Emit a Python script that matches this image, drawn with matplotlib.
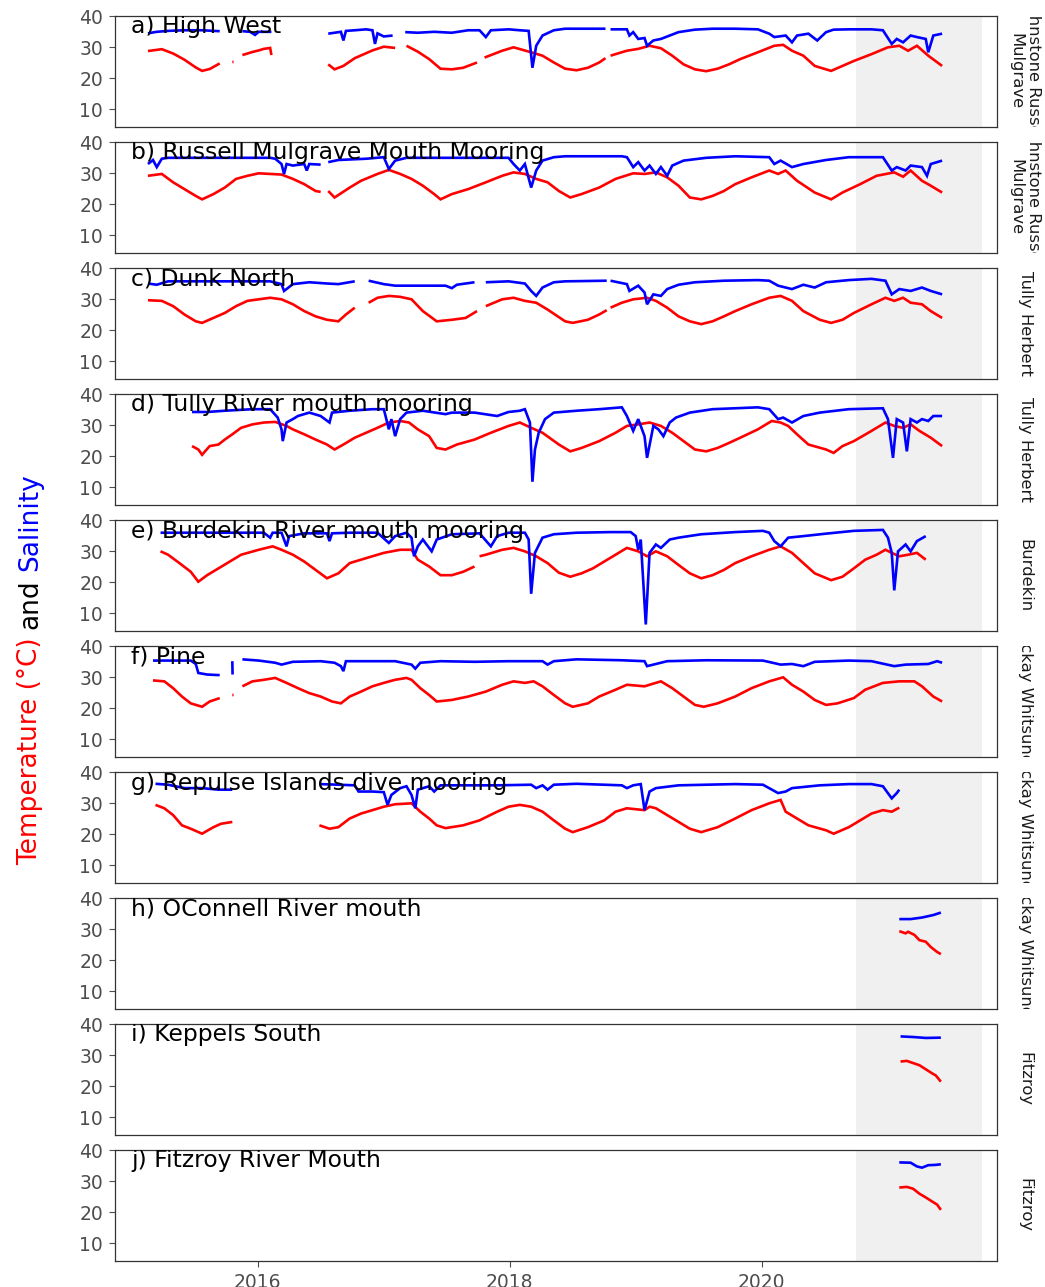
import numpy as np
import pandas as pd
import matplotlib
matplotlib.use("Agg")
import matplotlib.pyplot as plt
import matplotlib.dates as mdates

plt.rcParams["font.family"] = ["DejaVu Sans"]

# ---------------------------------------------------------------------------
# Logger series: (decimal year, value); None marks a gap in the record
# ---------------------------------------------------------------------------
site_titles = ["a) High West", "b) Russell Mulgrave Mouth Mooring", "c) Dunk North",
               "d) Tully River mouth mooring", "e) Burdekin River mouth mooring", "f) Pine",
               "g) Repulse Islands dive mooring", "h) OConnell River mouth",
               "i) Keppels South", "j) Fitzroy River Mouth"]
regions = ["Johnstone Russell\nMulgrave", "Johnstone Russell\nMulgrave", "Tully Herbert",
           "Tully Herbert", "Burdekin", "Mackay Whitsunday", "Mackay Whitsunday",
           "Mackay Whitsunday", "Fitzroy", "Fitzroy"]

temp_a = [(2015.13, 28.8), (2015.24, 29.4), (2015.33, 28.0), (2015.42, 26.0), (2015.51, 23.5),
          (2015.56, 22.4), (2015.62, 23.0), (2015.70, 24.8), None, (2015.80, 25.3), (2015.81, 25.3),
          None, (2015.88, 27.5), (2015.96, 28.5), (2016.01, 29.0), (2016.05, 29.5), (2016.10, 29.8),
          (2016.11, 27.5), None, (2016.56, 24.5), (2016.61, 22.9), (2016.68, 24.0), (2016.77, 26.5),
          (2016.91, 29.0), (2017.00, 30.2), (2017.09, 29.8), None, (2017.18, 30.5), (2017.27, 28.6),
          (2017.36, 26.2), (2017.45, 23.1), (2017.54, 22.9), (2017.63, 23.4), (2017.74, 25.1), None,
          (2017.80, 26.7), (2017.94, 28.9), (2018.03, 30.0), (2018.17, 28.4), (2018.26, 27.3),
          (2018.35, 25.1), (2018.44, 23.1), (2018.53, 22.6), (2018.62, 23.4), (2018.71, 25.1),
          (2018.76, 26.5), None, (2018.80, 27.3), (2018.84, 27.8), (2018.93, 28.9), (2019.02, 29.5),
          (2019.11, 30.5), (2019.20, 29.7), (2019.29, 27.3), (2019.38, 24.5), (2019.47, 22.9),
          (2019.56, 22.3), (2019.65, 23.1), (2019.74, 24.5), (2019.83, 26.2), (2019.97, 28.4),
          (2020.10, 30.5), (2020.17, 30.8), (2020.24, 28.9), (2020.33, 27.3), (2020.42, 24.0),
          (2020.55, 22.4), (2020.64, 24.0), (2020.73, 25.6), (2020.87, 27.8), (2021.00, 30.0),
          (2021.09, 30.5), (2021.16, 28.9), (2021.23, 30.5), (2021.32, 27.3), (2021.43, 24.0)]
sal_a = [(2015.13, 34.5), (2015.17, 34.8), (2015.20, 35.0), (2015.29, 35.3), (2015.42, 35.5),
         (2015.56, 35.5), (2015.65, 35.3), (2015.70, 35.2), None, (2015.88, 35.2), (2015.94, 35.0),
         (2015.98, 34.0), (2016.01, 35.0), (2016.11, 35.0), None, (2016.56, 34.4), (2016.61, 34.7),
         (2016.66, 35.0), (2016.68, 32.2), (2016.70, 35.3), (2016.77, 35.5), (2016.86, 35.8),
         (2016.91, 35.5), (2016.93, 31.1), (2016.95, 34.5), (2017.00, 33.5), (2017.07, 33.8), None,
         (2017.17, 34.9), (2017.27, 34.7), (2017.40, 35.0), (2017.54, 34.7), (2017.67, 35.5),
         (2017.76, 35.5), (2017.81, 33.3), (2017.85, 35.5), (2017.99, 35.8), (2018.08, 35.5),
         (2018.15, 35.3), (2018.18, 23.4), (2018.21, 30.5), (2018.26, 33.8), (2018.35, 35.5),
         (2018.44, 36.0), (2018.62, 36.0), (2018.76, 36.0), None, (2018.80, 35.8), (2018.93, 35.8),
         (2018.95, 33.8), (2018.98, 34.9), (2019.02, 32.7), (2019.07, 33.0), (2019.09, 30.5),
         (2019.14, 32.2), (2019.20, 32.7), (2019.34, 34.9), (2019.47, 35.7), (2019.61, 36.0),
         (2019.79, 36.0), (2019.97, 35.8), (2020.06, 34.4), (2020.10, 33.3), (2020.19, 33.8),
         (2020.24, 31.6), (2020.28, 33.8), (2020.37, 34.4), (2020.44, 32.2), (2020.51, 34.9),
         (2020.57, 35.7), (2020.69, 35.8), (2020.87, 35.8), (2020.96, 35.5), (2021.03, 31.1),
         (2021.07, 32.7), (2021.12, 31.6), (2021.18, 33.8), (2021.23, 33.3), (2021.30, 32.7),
         (2021.32, 28.4), (2021.36, 33.8), (2021.43, 34.4)]

temp_b = [(2015.13, 29.2), (2015.24, 29.8), (2015.33, 27.1), (2015.42, 24.9), (2015.51, 22.7),
          (2015.56, 21.6), (2015.65, 23.3), (2015.74, 25.4), (2015.83, 28.2), (2015.92, 29.2),
          (2016.01, 30.0), (2016.10, 29.8), (2016.19, 29.6), (2016.28, 28.2), (2016.37, 26.5),
          (2016.46, 24.3), (2016.50, 24.0), None, (2016.56, 24.3), (2016.61, 22.2), (2016.73, 25.4),
          (2016.82, 27.6), (2016.95, 29.8), (2017.04, 31.1), (2017.13, 29.8), (2017.22, 28.2),
          (2017.31, 26.0), (2017.40, 23.3), (2017.45, 21.6), (2017.54, 23.3), (2017.67, 24.9),
          (2017.81, 27.1), (2017.94, 29.2), (2018.03, 30.3), (2018.12, 29.8), (2018.21, 28.2),
          (2018.30, 27.1), (2018.39, 24.3), (2018.48, 22.2), (2018.57, 23.3), (2018.71, 25.4),
          (2018.84, 28.2), (2018.98, 30.0), (2019.07, 29.8), (2019.16, 30.3), (2019.25, 28.7),
          (2019.34, 26.0), (2019.43, 22.2), (2019.52, 21.6), (2019.61, 22.7), (2019.70, 24.3),
          (2019.79, 26.5), (2019.92, 28.7), (2020.06, 30.9), (2020.13, 29.8), (2020.19, 30.9),
          (2020.28, 27.6), (2020.42, 23.8), (2020.55, 21.6), (2020.64, 23.8), (2020.78, 26.5),
          (2020.91, 29.2), (2021.05, 30.3), (2021.12, 28.9), (2021.18, 30.9), (2021.27, 27.6),
          (2021.34, 26.0), (2021.43, 23.8)]
sal_b = [(2015.13, 33.0), (2015.17, 34.3), (2015.20, 32.0), (2015.24, 34.7), (2015.29, 35.0),
         (2015.60, 35.0), (2016.10, 35.0), (2016.14, 34.7), (2016.19, 33.0), (2016.21, 29.8),
         (2016.23, 33.0), (2016.28, 32.5), (2016.37, 33.0), (2016.39, 30.9), (2016.41, 33.0),
         (2016.50, 32.8), None, (2016.56, 33.6), (2016.64, 34.3), (2016.86, 34.7), (2017.00, 35.2),
         (2017.04, 31.4), (2017.09, 34.1), (2017.18, 35.0), (2017.99, 35.0), (2018.03, 33.0),
         (2018.08, 30.9), (2018.12, 33.0), (2018.17, 25.4), (2018.21, 30.9), (2018.26, 34.1),
         (2018.35, 35.2), (2018.44, 35.5), (2018.89, 35.5), (2018.93, 35.2), (2018.98, 32.0),
         (2019.02, 33.6), (2019.07, 30.9), (2019.11, 32.5), (2019.16, 29.8), (2019.20, 32.0),
         (2019.25, 29.2), (2019.29, 32.5), (2019.38, 34.1), (2019.56, 35.0), (2019.79, 35.5),
         (2020.06, 35.2), (2020.10, 33.0), (2020.15, 34.1), (2020.24, 32.0), (2020.33, 33.0),
         (2020.51, 34.3), (2020.69, 35.2), (2020.96, 35.2), (2021.03, 30.9), (2021.07, 32.0),
         (2021.14, 30.9), (2021.18, 32.5), (2021.27, 32.0), (2021.31, 29.2), (2021.34, 33.0),
         (2021.43, 34.1)]

temp_c = [(2015.13, 29.7), (2015.24, 29.5), (2015.33, 27.8), (2015.42, 25.1), (2015.51, 22.9),
          (2015.56, 22.4), (2015.65, 24.0), (2015.74, 25.6), (2015.83, 27.8), (2015.92, 29.5),
          (2016.01, 30.0), (2016.10, 30.5), (2016.19, 30.0), (2016.28, 28.4), (2016.37, 26.2),
          (2016.46, 24.5), (2016.55, 23.4), (2016.64, 22.9), (2016.70, 25.1), (2016.77, 27.3), None,
          (2016.88, 28.9), (2016.95, 30.5), (2017.04, 31.1), (2017.13, 30.8), (2017.22, 30.0),
          (2017.31, 26.2), (2017.42, 22.9), (2017.54, 23.4), (2017.65, 24.0), (2017.74, 26.2), None,
          (2017.81, 27.8), (2017.94, 30.0), (2018.03, 30.5), (2018.12, 29.5), (2018.21, 28.9),
          (2018.30, 26.7), (2018.44, 22.9), (2018.50, 22.4), (2018.62, 23.4), (2018.71, 25.1),
          (2018.77, 26.5), None, (2018.80, 27.3), (2018.89, 28.9), (2018.98, 30.0), (2019.09, 30.5),
          (2019.16, 29.5), (2019.25, 27.3), (2019.34, 24.5), (2019.43, 22.9), (2019.52, 22.0),
          (2019.61, 22.9), (2019.70, 24.5), (2019.79, 26.2), (2019.92, 28.4), (2020.06, 30.5),
          (2020.15, 31.1), (2020.24, 29.5), (2020.33, 26.2), (2020.46, 23.4), (2020.55, 22.4),
          (2020.64, 23.4), (2020.73, 25.6), (2020.87, 28.4), (2020.98, 30.5), (2021.05, 29.5),
          (2021.12, 30.5), (2021.18, 28.9), (2021.27, 28.4), (2021.34, 26.2), (2021.43, 24.0)]
sal_c = [(2015.13, 35.1), (2015.20, 34.7), (2015.29, 35.8), (2015.60, 35.8), (2016.10, 35.8),
         (2016.19, 34.9), (2016.21, 32.7), (2016.28, 34.9), (2016.41, 35.5), (2016.55, 35.1),
         (2016.64, 34.9), (2016.77, 35.8), None, (2016.88, 36.0), (2017.00, 34.9), (2017.09, 34.4),
         (2017.49, 34.4), (2017.54, 33.6), (2017.58, 34.7), (2017.72, 35.5), None, (2017.81, 35.5),
         (2017.99, 35.8), (2018.12, 35.1), (2018.17, 32.7), (2018.21, 31.1), (2018.26, 33.8),
         (2018.35, 35.5), (2018.44, 35.8), (2018.77, 36.0), None, (2018.80, 36.0), (2018.93, 34.9),
         (2018.95, 32.7), (2019.02, 34.4), (2019.07, 32.2), (2019.09, 28.4), (2019.14, 31.6),
         (2019.20, 31.1), (2019.25, 33.3), (2019.34, 34.7), (2019.47, 35.5), (2019.70, 36.0),
         (2019.97, 36.2), (2020.06, 36.0), (2020.13, 34.4), (2020.24, 33.3), (2020.33, 34.7),
         (2020.42, 33.8), (2020.51, 35.5), (2020.69, 36.2), (2020.87, 36.6), (2020.98, 36.0),
         (2021.03, 31.6), (2021.09, 33.3), (2021.18, 32.7), (2021.27, 33.8), (2021.34, 32.7),
         (2021.43, 31.6)]

temp_d = [(2015.48, 23.3), (2015.53, 22.2), (2015.56, 20.5), (2015.62, 23.3), (2015.69, 23.8),
          (2015.74, 25.4), (2015.80, 27.1), (2015.87, 29.2), (2015.96, 30.3), (2016.05, 30.9),
          (2016.14, 31.1), (2016.23, 29.8), (2016.28, 28.7), (2016.37, 27.1), (2016.46, 25.4),
          (2016.55, 23.8), (2016.61, 22.2), (2016.68, 23.8), (2016.77, 26.0), (2016.86, 27.6),
          (2016.95, 29.2), (2017.04, 30.9), (2017.13, 31.4), (2017.20, 30.9), (2017.27, 28.7),
          (2017.36, 26.5), (2017.42, 22.7), (2017.49, 22.2), (2017.58, 23.8), (2017.72, 25.4),
          (2017.85, 27.6), (2017.99, 29.8), (2018.08, 30.9), (2018.17, 29.2), (2018.26, 27.6),
          (2018.39, 23.8), (2018.48, 21.6), (2018.57, 22.7), (2018.71, 24.9), (2018.84, 27.6),
          (2018.93, 29.8), (2019.02, 30.3), (2019.11, 30.9), (2019.20, 29.8), (2019.29, 27.6),
          (2019.38, 24.9), (2019.47, 22.2), (2019.56, 21.6), (2019.65, 22.7), (2019.74, 24.3),
          (2019.83, 26.0), (2019.97, 28.7), (2020.08, 31.4), (2020.15, 30.9), (2020.21, 29.8),
          (2020.28, 27.1), (2020.37, 23.8), (2020.51, 22.2), (2020.57, 21.1), (2020.64, 23.3),
          (2020.73, 24.9), (2020.87, 28.2), (2020.98, 30.9), (2021.05, 29.8), (2021.12, 29.2),
          (2021.18, 30.3), (2021.25, 28.2), (2021.34, 26.0), (2021.43, 23.3)]
sal_d = [(2015.48, 34.3), (2015.60, 34.3), (2015.74, 34.7), (2015.96, 35.2), (2016.10, 35.2),
         (2016.16, 32.5), (2016.19, 28.7), (2016.20, 24.9), (2016.23, 30.9), (2016.28, 32.0),
         (2016.32, 33.0), (2016.41, 34.1), (2016.50, 33.0), (2016.57, 30.9), (2016.59, 34.1),
         (2016.73, 34.7), (2016.91, 35.2), (2017.00, 35.2), (2017.02, 32.0), (2017.04, 28.7),
         (2017.06, 32.0), (2017.09, 26.5), (2017.13, 32.0), (2017.18, 34.1), (2017.31, 34.7),
         (2017.49, 33.6), (2017.54, 34.1), (2017.72, 34.1), (2017.90, 33.0), (2017.99, 34.3),
         (2018.08, 34.7), (2018.12, 35.2), (2018.16, 30.9), (2018.18, 11.8), (2018.20, 22.2),
         (2018.23, 27.6), (2018.28, 32.0), (2018.35, 34.1), (2018.53, 34.7), (2018.71, 35.2),
         (2018.89, 35.8), (2018.93, 33.0), (2018.98, 28.2), (2019.02, 32.0), (2019.07, 26.5),
         (2019.09, 19.5), (2019.14, 29.8), (2019.18, 28.7), (2019.22, 26.5), (2019.27, 30.9),
         (2019.32, 32.5), (2019.43, 34.1), (2019.61, 35.2), (2019.79, 35.5), (2019.97, 35.8),
         (2020.06, 35.2), (2020.13, 32.0), (2020.17, 32.5), (2020.24, 30.9), (2020.33, 33.0),
         (2020.46, 34.1), (2020.69, 35.2), (2020.96, 35.5), (2021.00, 32.0), (2021.04, 19.5),
         (2021.07, 32.0), (2021.12, 30.9), (2021.15, 21.6), (2021.18, 32.0), (2021.23, 30.9),
         (2021.27, 32.0), (2021.32, 31.4), (2021.36, 33.0), (2021.43, 33.0)]

temp_e = [(2015.23, 30.0), (2015.29, 28.9), (2015.38, 26.2), (2015.47, 23.4), (2015.53, 20.2),
          (2015.60, 22.3), (2015.69, 24.5), (2015.78, 26.7), (2015.87, 28.9), (2016.01, 30.5),
          (2016.12, 31.6), (2016.19, 30.5), (2016.28, 28.9), (2016.37, 26.7), (2016.46, 24.0),
          (2016.55, 21.3), (2016.64, 22.9), (2016.73, 26.2), (2016.86, 27.8), (2017.00, 29.5),
          (2017.13, 30.5), (2017.22, 30.5), (2017.27, 27.3), (2017.36, 25.1), (2017.45, 22.3),
          (2017.54, 22.3), (2017.63, 23.4), (2017.72, 25.1), None, (2017.76, 28.4), (2017.81, 28.9),
          (2017.94, 30.5), (2018.03, 31.1), (2018.12, 30.0), (2018.21, 28.4), (2018.30, 26.2),
          (2018.39, 23.1), (2018.48, 21.8), (2018.57, 22.9), (2018.66, 24.5), (2018.75, 26.7),
          (2018.84, 28.9), (2018.93, 31.1), (2019.02, 30.0), (2019.09, 28.4), (2019.16, 30.0),
          (2019.25, 28.4), (2019.34, 25.6), (2019.43, 22.9), (2019.52, 21.3), (2019.61, 22.3),
          (2019.70, 24.0), (2019.79, 26.2), (2019.92, 28.4), (2020.06, 30.5), (2020.15, 31.6),
          (2020.24, 29.5), (2020.33, 26.2), (2020.42, 22.9), (2020.55, 20.7), (2020.64, 21.8),
          (2020.73, 24.5), (2020.82, 27.3), (2020.91, 28.9), (2020.98, 30.5), (2021.03, 29.5),
          (2021.09, 28.4), (2021.16, 28.9), (2021.23, 29.5), (2021.30, 27.3)]
sal_e = [(2015.23, 36.0), (2016.05, 36.0), (2016.10, 34.4), (2016.12, 36.0), (2016.19, 36.0),
         (2016.23, 31.6), (2016.25, 34.9), (2016.37, 35.8), (2016.55, 35.8), (2016.57, 33.3),
         (2016.59, 35.8), (2016.73, 36.0), (2016.95, 36.0), (2017.04, 32.7), (2017.09, 34.9),
         (2017.18, 36.0), (2017.22, 34.4), (2017.24, 28.4), (2017.27, 31.6), (2017.31, 33.8),
         (2017.38, 30.0), (2017.42, 33.8), (2017.54, 35.5), (2017.76, 35.8), (2017.85, 31.6),
         (2017.90, 34.9), (2017.99, 36.0), (2018.12, 36.0), (2018.15, 33.8), (2018.17, 16.3),
         (2018.20, 29.5), (2018.26, 34.4), (2018.35, 35.5), (2018.53, 36.0), (2018.80, 36.2),
         (2018.96, 36.2), (2019.00, 34.9), (2019.02, 30.5), (2019.04, 33.8), (2019.08, 6.4),
         (2019.11, 29.5), (2019.16, 32.2), (2019.20, 31.1), (2019.27, 33.8), (2019.34, 34.4),
         (2019.52, 35.5), (2019.79, 36.2), (2020.01, 36.6), (2020.06, 36.0), (2020.10, 33.3),
         (2020.15, 31.6), (2020.21, 34.4), (2020.33, 34.9), (2020.51, 35.7), (2020.73, 36.6),
         (2020.96, 36.9), (2021.00, 34.4), (2021.03, 29.5), (2021.05, 17.4), (2021.08, 30.0),
         (2021.14, 32.2), (2021.18, 30.0), (2021.23, 33.3), (2021.30, 34.9)]

temp_f = [(2015.17, 29.0), (2015.26, 28.7), (2015.33, 26.5), (2015.40, 23.8), (2015.47, 21.6),
          (2015.56, 20.5), (2015.62, 22.2), (2015.70, 23.3), None, (2015.80, 24.3), (2015.81, 24.3),
          None, (2015.88, 27.1), (2015.96, 28.7), (2016.05, 29.2), (2016.14, 29.8), (2016.23, 28.2),
          (2016.32, 26.5), (2016.41, 24.9), (2016.50, 23.8), (2016.59, 22.2), (2016.66, 21.6),
          (2016.73, 23.8), (2016.82, 25.4), (2016.91, 27.1), (2017.00, 28.2), (2017.09, 29.2),
          (2017.18, 29.8), (2017.22, 29.2), (2017.29, 26.5), (2017.36, 24.3), (2017.42, 22.2),
          (2017.54, 22.7), (2017.67, 23.8), (2017.81, 25.4), (2017.94, 27.6), (2018.03, 28.7),
          (2018.12, 28.2), (2018.19, 28.7), (2018.26, 27.1), (2018.35, 24.3), (2018.44, 21.6),
          (2018.50, 20.5), (2018.62, 21.6), (2018.71, 23.8), (2018.84, 26.0), (2018.93, 27.6),
          (2019.07, 27.1), (2019.11, 27.6), (2019.20, 28.7), (2019.29, 26.5), (2019.38, 23.8),
          (2019.47, 21.1), (2019.54, 20.5), (2019.65, 21.6), (2019.79, 23.8), (2019.92, 26.5),
          (2020.06, 28.7), (2020.17, 30.0), (2020.24, 27.6), (2020.33, 25.4), (2020.42, 22.7),
          (2020.51, 21.1), (2020.60, 21.6), (2020.73, 23.3), (2020.82, 26.0), (2020.96, 28.2),
          (2021.09, 28.7), (2021.21, 28.7), (2021.27, 27.1), (2021.36, 23.8), (2021.43, 22.2)]
sal_f = [(2015.17, 35.4), (2015.47, 35.4), (2015.51, 34.3), (2015.53, 31.4), (2015.60, 30.9),
         (2015.70, 30.7), None, (2015.800, 35.2), (2015.802, 30.9), None, (2015.88, 35.8),
         (2016.01, 35.4), (2016.14, 34.7), (2016.19, 34.1), (2016.28, 35.0), (2016.50, 35.2),
         (2016.61, 34.7), (2016.66, 33.6), (2016.68, 32.0), (2016.70, 35.2), (2017.09, 35.2),
         (2017.22, 34.1), (2017.25, 32.8), (2017.29, 34.7), (2017.45, 35.2), (2017.72, 35.0),
         (2017.99, 35.2), (2018.26, 35.2), (2018.30, 34.1), (2018.35, 35.2), (2018.53, 35.8),
         (2018.89, 35.5), (2019.07, 35.2), (2019.09, 33.6), (2019.14, 34.1), (2019.25, 35.2),
         (2019.56, 35.5), (2020.01, 35.4), (2020.15, 34.1), (2020.24, 34.3), (2020.33, 33.6),
         (2020.42, 35.0), (2020.69, 35.4), (2020.87, 35.2), (2021.05, 33.6), (2021.14, 34.1),
         (2021.32, 34.3), (2021.39, 35.2), (2021.43, 34.7)]

temp_g = [(2015.19, 29.5), (2015.26, 28.4), (2015.33, 26.2), (2015.40, 22.9), (2015.47, 21.8),
          (2015.56, 20.2), (2015.65, 22.3), (2015.71, 23.4), (2015.80, 24.0), None, (2016.49, 22.9),
          (2016.57, 21.8), (2016.64, 22.3), (2016.73, 25.1), (2016.82, 26.7), (2016.91, 27.8),
          (2017.00, 28.9), (2017.09, 29.7), (2017.22, 30.0), (2017.29, 27.3), (2017.36, 25.1),
          (2017.42, 22.9), (2017.49, 22.0), (2017.63, 22.9), (2017.76, 24.5), (2017.90, 27.3),
          (2017.99, 28.9), (2018.08, 29.5), (2018.17, 28.9), (2018.26, 27.3), (2018.35, 24.5),
          (2018.44, 21.8), (2018.50, 20.7), (2018.62, 22.3), (2018.75, 24.5), (2018.84, 27.3),
          (2018.93, 28.4), (2019.07, 27.8), (2019.11, 28.9), (2019.16, 28.4), (2019.25, 26.2),
          (2019.34, 24.0), (2019.43, 21.8), (2019.52, 20.7), (2019.65, 22.3), (2019.79, 25.1),
          (2019.92, 27.8), (2020.06, 30.0), (2020.15, 31.1), (2020.19, 27.3), (2020.28, 25.1),
          (2020.37, 22.9), (2020.51, 21.3), (2020.57, 20.2), (2020.69, 22.3), (2020.78, 24.5),
          (2020.87, 26.7), (2020.96, 27.8), (2021.03, 27.3), (2021.09, 28.6)]
sal_g = [(2015.19, 36.3), (2015.29, 36.0), (2015.42, 34.9), (2015.56, 34.9), (2015.69, 34.4),
         (2015.80, 34.4), None, (2016.49, 36.2), (2016.64, 36.0), (2016.77, 35.8), (2016.80, 33.8),
         (2016.91, 33.8), (2017.00, 33.6), (2017.03, 29.5), (2017.06, 32.7), (2017.13, 34.9),
         (2017.18, 35.5), (2017.22, 32.7), (2017.25, 28.4), (2017.27, 34.4), (2017.36, 35.5),
         (2017.40, 33.8), (2017.45, 35.8), (2017.63, 35.8), (2017.90, 35.8), (2018.17, 36.0),
         (2018.21, 34.9), (2018.26, 35.8), (2018.30, 34.4), (2018.35, 36.0), (2018.53, 36.3),
         (2018.89, 35.8), (2018.93, 34.9), (2018.98, 35.8), (2019.04, 36.2), (2019.07, 27.8),
         (2019.11, 33.8), (2019.16, 34.9), (2019.34, 35.8), (2019.56, 36.0), (2019.79, 36.2),
         (2020.01, 36.0), (2020.13, 33.3), (2020.19, 33.8), (2020.24, 34.9), (2020.46, 35.8),
         (2020.69, 36.2), (2020.87, 36.2), (2020.96, 35.5), (2021.03, 31.6), (2021.07, 33.3),
         (2021.09, 34.4)]

temp_h = [(2021.09, 29.4), (2021.14, 28.7), (2021.16, 29.2), (2021.21, 28.2), (2021.25, 26.5),
          (2021.30, 26.0), (2021.34, 24.3), (2021.39, 22.7), (2021.42, 22.0)]
sal_h = [(2021.09, 33.3), (2021.18, 33.3), (2021.27, 33.8), (2021.36, 34.6), (2021.42, 35.4)]

temp_i = [(2021.10, 28.0), (2021.15, 28.2), (2021.20, 27.5), (2021.25, 26.8), (2021.30, 25.5),
          (2021.35, 24.2), (2021.38, 23.5), (2021.42, 21.5)]
sal_i = [(2021.10, 36.1), (2021.20, 35.9), (2021.30, 35.6), (2021.42, 35.7)]

temp_j = [(2021.09, 28.0), (2021.15, 28.2), (2021.20, 27.6), (2021.25, 26.0), (2021.30, 24.8),
          (2021.35, 23.5), (2021.39, 22.5), (2021.42, 20.8)]
sal_j = [(2021.09, 36.1), (2021.18, 36.0), (2021.23, 34.8), (2021.27, 34.4), (2021.32, 35.2),
         (2021.38, 35.3), (2021.42, 35.5)]

temps = [temp_a, temp_b, temp_c, temp_d, temp_e, temp_f, temp_g, temp_h, temp_i, temp_j]
sals = [sal_a, sal_b, sal_c, sal_d, sal_e, sal_f, sal_g, sal_h, sal_i, sal_j]

y_ticks = [10, 20, 30, 40]
x_tick_years = [2016, 2018, 2020]
water_year = ("2020-10-01", "2021-09-30")


def decimal_year_to_date(y):
    year = int(np.floor(y))
    start = pd.Timestamp(year=year, month=1, day=1)
    end = pd.Timestamp(year=year + 1, month=1, day=1)
    return start + (end - start) * (y - year)


def to_xy(series):
    xs, ys = [], []
    prev = None
    for item in series:
        if item is None:
            xs.append(decimal_year_to_date(prev + 0.001))
            ys.append(np.nan)
            continue
        yr, val = item
        xs.append(decimal_year_to_date(yr))
        ys.append(val)
        prev = yr
    return np.array(xs, dtype="datetime64[ns]"), np.array(ys, dtype=float)


# ---------------------------------------------------------------------------
# Figure layout (pixel geometry of the stacked facets)
# ---------------------------------------------------------------------------
W, H = 1045, 1287
fig = plt.figure(figsize=(W / 100, H / 100), dpi=100)

p_left, p_right = 115, 997
p_top0, p_h, p_pitch = 16, 111, 126
strip_left, strip_w = 1003, 44

grey_text = "#4D4D4D"
frame_col = "#333333"

x0 = pd.Timestamp("2014-11-14")
x1 = pd.Timestamp("2021-11-13")

for i, (title, region, tser, sser) in enumerate(zip(site_titles, regions, temps, sals)):
    top = p_top0 + p_pitch * i
    rect = [p_left / W, 1 - (top + p_h) / H, (p_right - p_left) / W, p_h / H]
    ax = fig.add_axes(rect)
    ax.axvspan(pd.Timestamp(water_year[0]), pd.Timestamp(water_year[1]),
               color="#F0F0F0", lw=0, zorder=0)
    tx, ty = to_xy(tser)
    sx, sy = to_xy(sser)
    ax.plot(tx, ty, color="#FF0000", lw=1.9, zorder=2, solid_capstyle="butt",
            solid_joinstyle="miter")
    ax.plot(sx, sy, color="#0000FF", lw=1.9, zorder=3, solid_capstyle="butt",
            solid_joinstyle="miter")

    ax.set_xlim(x0, x1)
    ax.set_ylim(4.3, 40.1)
    ax.set_yticks(y_ticks)
    ax.tick_params(axis="y", length=4.5, width=0.8, color=grey_text, pad=4,
                   labelsize=13.5, labelcolor=grey_text)
    ax.set_xticks([pd.Timestamp(f"{y}-01-01") for y in x_tick_years])
    ax.xaxis.set_major_formatter(mdates.DateFormatter("%Y"))
    if i == len(site_titles) - 1:
        ax.tick_params(axis="x", length=4.5, width=0.8, color=grey_text, pad=4,
                       labelsize=13.5, labelcolor=grey_text)
    else:
        ax.tick_params(axis="x", length=0, labelbottom=False)
    for sp in ax.spines.values():
        sp.set_color(frame_col)
        sp.set_linewidth(0.9)
    ax.set_facecolor("white")

    ax.text(16 / (p_right - p_left), 1 - 17.5 / p_h, title, transform=ax.transAxes,
            ha="left", va="baseline", fontsize=16.9, color="black", zorder=5,
            clip_on=True)

    # facet strip on the right
    sax = fig.add_axes([strip_left / W, 1 - (top + p_h) / H, strip_w / W, p_h / H])
    sax.set_axis_off()
    sax.text(0.5, 0.5, region, transform=sax.transAxes, rotation=-90,
             ha="center", va="center", fontsize=11.8, color="#1A1A1A",
             linespacing=1.35, clip_on=True, multialignment="center")

# ---------------------------------------------------------------------------
# Two-colour y-axis title, built bottom-to-top
# ---------------------------------------------------------------------------
renderer = fig.canvas.get_renderer()
pieces = [("Temperature (\u00b0C)", "#FF0000"), ("and", "black"), ("Salinity", "#0000FF")]
y_px = 865.0
x_base = 37 / W
fs = 19
space = fig.text(0, 0, "a a", fontsize=fs)
aa = fig.text(0, 0, "aa", fontsize=fs)
space_px = (space.get_window_extent(renderer).width - aa.get_window_extent(renderer).width)
space.remove()
aa.remove()
for s, c in pieces:
    t = fig.text(x_base, 1 - y_px / H, s, rotation=90, rotation_mode="anchor",
                 ha="left", va="baseline", fontsize=fs, color=c)
    ext = t.get_window_extent(renderer)
    y_px -= ext.height + space_px

fig.savefig("out.png", dpi=100)
